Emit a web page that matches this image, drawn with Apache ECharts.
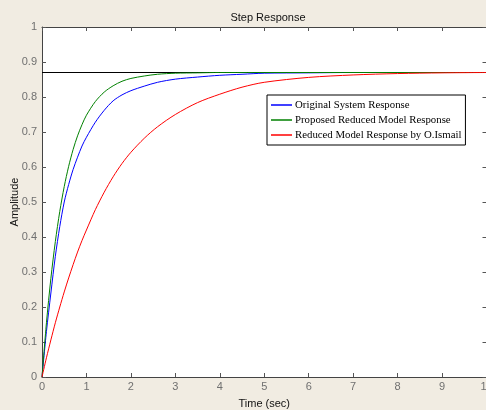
<!DOCTYPE html>
<html><head><meta charset="utf-8">
<script src="https://cdn.jsdelivr.net/npm/echarts@6/dist/echarts.min.js"></script>
<style>html,body{margin:0;padding:0;background:#f1ece2;}#c{width:486px;height:410px;}</style>
</head><body><div id="c"></div>
<script>
const timeSec = [0,0.1,0.2,0.3,0.4,0.5,0.6,0.7,0.8,0.9,1.0,1.2,1.4,1.6,1.8,2.0,2.3,2.6,3.0,3.5,4,4.5,5,6,7,8,9,10];
const originalResp = [0,0.13,0.24,0.345,0.43,0.50,0.55,0.593,0.628,0.66,0.685,0.728,0.762,0.789,0.806,0.818,0.831,0.842,0.851,0.857,0.862,0.865,0.868,0.869,0.87,0.87,0.87,0.87];
const proposedResp = [0,0.155,0.282,0.387,0.473,0.544,0.602,0.65,0.689,0.721,0.748,0.787,0.814,0.832,0.845,0.853,0.86,0.865,0.868,0.869,0.87,0.87,0.87,0.87,0.87,0.87,0.87,0.87];
const ismailResp = [0,0.055,0.106,0.155,0.2,0.243,0.283,0.321,0.357,0.39,0.42,0.478,0.528,0.572,0.61,0.642,0.682,0.715,0.75,0.784,0.808,0.828,0.842,0.856,0.863,0.867,0.869,0.87];
const steadyState = 0.87;
const seriesNames = ['Original System Response','Proposed Reduced Model Response','Reduced Model Response by O.Ismail'];
const xTicks = [0,1,2,3,4,5,6,7,8,9,10];
const yTicks = [0,0.1,0.2,0.3,0.4,0.5,0.6,0.7,0.8,0.9,1];

const pair = arr => timeSec.map((t,i)=>[t,arr[i]]);
const chart = echarts.init(document.getElementById('c'), null, {renderer:'canvas'});
const tickFont = {color:'#707070', fontFamily:'Liberation Sans, Arial', fontSize:11};
const axBase = {type:'value', min:0, axisLine:{show:true, onZero:false, lineStyle:{color:'#444', width:1}},
  axisTick:{show:true, inside:true, length:4, lineStyle:{color:'#555'}}, splitLine:{show:false}};
chart.setOption({
  backgroundColor:'#f1ece2',
  animation:false,
  title:{text:'Step Response', left:263, top:7, textAlign:'center',
    textStyle:{fontFamily:'Liberation Sans, Arial', fontSize:11, fontWeight:'normal', color:'#111'}},
  grid:{left:42, top:27, width:444.5, height:350, backgroundColor:'#ffffff', show:true, borderWidth:0,
    containLabel:false, outerBoundsMode:'none'},
  legend:{data:seriesNames, orient:'vertical', left:267, top:95, icon:'rect', itemWidth:21, itemHeight:1.5,
    itemGap:3, padding:[4,4,4,4], backgroundColor:'#ffffff', borderColor:'#000', borderWidth:1,
    textStyle:{fontFamily:'Liberation Serif, Times New Roman', fontSize:10.8, color:'#000', lineHeight:12, padding:[0,0,0,-2]}},
  xAxis:[
    Object.assign({}, axBase, {max:10, interval:1, position:'bottom',
      name:'Time (sec)', nameLocation:'middle', nameGap:21, nameMoveOverlap:false,
      nameTextStyle:{fontFamily:'Liberation Sans, Arial', fontSize:11, color:'#111'},
      axisLabel:Object.assign({margin:4, formatter:v=>xTicks.includes(v)?String(v):''}, tickFont)}),
    Object.assign({}, axBase, {max:10, interval:1, position:'top', axisLabel:{show:false}})
  ],
  yAxis:[
    Object.assign({}, axBase, {max:1, interval:0.1, position:'left',
      name:'Amplitude', nameLocation:'middle', nameGap:22, nameRotate:90, nameMoveOverlap:false,
      nameTextStyle:{fontFamily:'Liberation Sans, Arial', fontSize:11, color:'#111'},
      axisLabel:Object.assign({margin:5, formatter:v=>{const r=Math.round(v*10)/10; return yTicks.includes(r)?String(r):'';}}, tickFont)}),
    Object.assign({}, axBase, {max:1, interval:0.1, position:'right', axisLabel:{show:false}})
  ],
  series:[
    {type:'line', name:'steady', data:[[0,steadyState],[10,steadyState]], symbol:'none', silent:true,
      lineStyle:{color:'#000', width:1}, z:2},
    {type:'line', name:seriesNames[0], data:pair(originalResp), symbol:'none', smooth:0.3,
      lineStyle:{color:'#0000ff', width:1}, itemStyle:{color:'#0000ff'}, z:3},
    {type:'line', name:seriesNames[1], data:pair(proposedResp), symbol:'none', smooth:0.3,
      lineStyle:{color:'#008000', width:1}, itemStyle:{color:'#008000'}, z:3},
    {type:'line', name:seriesNames[2], data:pair(ismailResp), symbol:'none', smooth:0.3,
      lineStyle:{color:'#ff0000', width:1}, itemStyle:{color:'#ff0000'}, z:4}
  ]
});
</script></body></html>
